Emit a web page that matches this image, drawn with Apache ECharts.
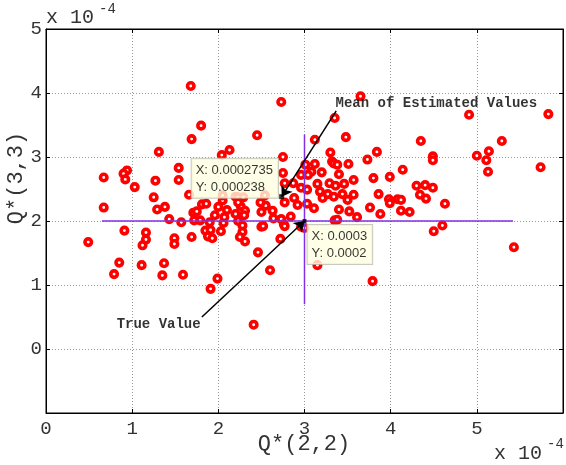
<!DOCTYPE html>
<html><head><meta charset="utf-8">
<script src="https://cdn.jsdelivr.net/npm/echarts@6/dist/echarts.min.js"></script>
<style>html,body{margin:0;padding:0;background:#fff}#c{width:566px;height:465px}</style>
</head><body><div id="c"></div>
<script>
// values in units of 1e-4
const estX = [1.68,2.73,1.80,1.69,2.45,1.31,2.13,2.04,2.75,0.67,0.94,0.90,0.92,1.03,1.27,1.54,1.54,1.25,1.66,1.29,1.38,0.67,1.43,1.57,0.91,1.16,1.16,1.12,1.49,1.49,1.69,0.49,0.85,0.79,1.11,1.37,1.35,1.59,1.91,1.99,2.46,2.60,2.41,2.72,
1.71,1.75,1.81,1.86,1.72,1.79,1.85,1.91,1.90,1.96,2.00,1.88,1.93,2.03,2.06,2.10,2.05,2.05,2.20,2.23,2.29,2.26,2.26,2.20,2.31,2.30,2.23,2.28,2.28,2.25,2.31,2.50,2.50,2.55,2.54,2.63,2.64,2.73,2.76,2.84,2.77,2.88,2.92,2.87,2.77,2.75,2.96,2.96,3.01,3.03,3.03,2.96,2.23,2.07,2.52,2.77,2.49,
3.65,3.35,3.12,3.48,3.30,3.32,3.34,3.38,3.12,3.51,3.73,3.84,3.20,3.40,3.08,3.04,3.57,3.80,3.99,4.14,4.35,4.49,4.49,4.91,5.00,5.11,5.14,5.29,5.13,5.74,5.83,5.43,3.79,4.50,4.60,3.15,3.29,3.36,3.46,3.18,3.27,3.21,3.34,3.44,3.50,3.57,3.11,3.40,3.52,3.61,3.76,3.88,3.86,3.98,3.99,4.08,4.12,4.12,4.22,4.30,4.40,4.49,4.34,4.41,4.63,3.35,3.38,3.15,3.00];
const estY = [4.11,3.86,3.49,3.28,3.34,3.08,3.11,3.03,3.00,2.68,2.79,2.74,2.65,2.53,2.63,2.83,2.64,2.37,2.41,2.18,2.22,2.21,2.03,1.98,1.85,1.82,1.71,1.62,1.73,1.64,1.75,1.67,1.35,1.17,1.31,1.34,1.15,1.16,0.94,1.10,1.51,1.23,0.38,1.72,
2.13,2.15,2.26,2.27,2.01,2.01,1.85,1.86,1.98,2.09,2.22,1.76,1.73,1.84,1.97,2.17,2.32,2.40,2.38,2.37,2.37,2.23,2.14,2.11,2.16,2.09,2.00,1.93,1.83,1.75,1.68,1.91,2.14,2.24,2.40,2.16,2.04,2.03,1.95,2.07,2.29,2.36,2.25,2.59,2.59,2.75,2.52,2.72,2.88,2.49,2.27,1.91,2.29,2.06,1.92,1.92,2.29,
3.95,3.61,3.27,3.31,3.07,2.93,2.90,2.88,2.89,2.89,2.96,3.08,2.76,2.73,2.77,2.72,2.64,2.67,2.69,2.80,3.25,3.01,2.95,3.66,3.02,2.95,3.09,3.25,2.77,2.84,3.67,1.59,1.06,1.84,1.93,2.58,2.59,2.55,2.58,2.46,2.42,2.36,2.38,2.42,2.33,2.41,2.20,2.18,2.15,2.06,2.21,2.11,2.42,2.34,2.28,2.34,2.33,2.16,2.14,2.55,2.56,2.52,2.41,2.35,2.27,2.01,2.02,1.31,1.89];

const meanPoint = [2.735, 2.38];
const truePoint = [3, 2];
const meanTip = 'X: 0.0002735\nY: 0.000238';
const trueTip = 'X: 0.0003\nY: 0.0002';
const trueHLine = [[0.65, 2], [5.42, 2]];
const trueVLine = [[3, 0.70], [3, 3.35]];
const meanArrow = [[3.368, 3.722], meanPoint];
const trueArrow = [[1.809, 0.499], truePoint];
const meanTextAt = [3.36, 3.84];
const trueTextAt = [0.82, 0.38];
const xTickLabels = [0, 1, 2, 3, 4, 5];
const yTickLabels = [0, 1, 2, 3, 4, 5];
const xRange = [0, 6];
const yRange = [-1, 5];

const mono = "'Liberation Mono','Courier New',monospace";
const sans = "'Liberation Sans',Arial,sans-serif";
const chart = echarts.init(document.getElementById('c'));
const pts = estX.map((x, i) => [x, estY[i]]);
const tipStyle = {show: true, position: 'inside', fontFamily: sans, fontSize: 13, lineHeight: 17, color: '#000', align: 'left',
  backgroundColor: '#ffffe1', borderColor: '#bcbcae', borderWidth: 1, padding: [3, 5, 2, 4]};
const axisCommon = (isX, main) => ({
  type: 'value', min: (isX ? xRange : yRange)[0], max: (isX ? xRange : yRange)[1], interval: 1,
  position: isX ? (main ? 'bottom' : 'top') : (main ? 'left' : 'right'),
  axisLine: {show: true, onZero: false, lineStyle: {color: '#000', width: 1}},
  axisTick: {show: true, inside: true, length: 4, lineStyle: {color: '#000'}},
  axisLabel: main ? {
    formatter: v => (isX ? xTickLabels : yTickLabels).includes(v) ? String(v) : '',
    fontFamily: mono, fontSize: 19, color: '#333', margin: isX ? 6 : 4
  } : {show: false},
  splitLine: main ? {show: true, lineStyle: {type: [1, 2], color: '#999', width: 1}} : {show: false}
});
chart.setOption({
  animation: false,
  grid: {left: 46, right: 1, top: 29, bottom: 52, show: true, backgroundColor: '#fff', borderColor: '#000', borderWidth: 1},
  xAxis: [axisCommon(true, true), axisCommon(true, false)],
  yAxis: [axisCommon(false, true), axisCommon(false, false)],
  graphic: [
    {type: 'text', left: 46, top: 8, style: {text: 'x 10', font: "20px 'Liberation Mono'", fill: '#333'}},
    {type: 'text', left: 99, top: 2, style: {text: '-4', font: "14px 'Liberation Mono'", fill: '#333'}},
    {type: 'text', left: 494, top: 444, style: {text: 'x 10', font: "20px 'Liberation Mono'", fill: '#333'}},
    {type: 'text', left: 547, top: 437, style: {text: '-4', font: "14px 'Liberation Mono'", fill: '#333'}},
    {type: 'text', x: 304, y: 444, style: {text: 'Q*(2,2)', font: "22px 'Liberation Mono'", fill: '#333', align: 'center', verticalAlign: 'middle'}},
    {type: 'text', x: 16, y: 178, rotation: Math.PI / 2, style: {text: 'Q*(3,3)', font: "22px 'Liberation Mono'", fill: '#333', align: 'center', verticalAlign: 'middle'}}
  ],
  series: [
    {type: 'scatter', data: pts, symbol: 'circle', symbolSize: 6.5, z: 3,
      itemStyle: {color: '#fff', borderColor: '#ff0000', borderWidth: 3.6, opacity: 1}},
    {type: 'line', data: trueHLine, symbol: 'none', z: 4, lineStyle: {color: '#8130e6', width: 1.5}},
    {type: 'line', data: trueVLine, symbol: 'none', z: 4, lineStyle: {color: '#8130e6', width: 1.5}},
    {type: 'scatter', data: [meanPoint], symbol: 'rect', symbolSize: 5, z: 6, itemStyle: {color: '#000'},
      label: Object.assign({}, tipStyle, {formatter: meanTip, verticalAlign: 'bottom', offset: [-90, 1]}),
      markLine: {silent: true, symbol: ['none', 'arrow'], symbolSize: 10, label: {show: false},
        lineStyle: {color: '#000', width: 1.5, type: 'solid'}, itemStyle: {color: '#000'},
        data: [[{coord: meanArrow[0]}, {coord: meanArrow[1]}], [{coord: trueArrow[0]}, {coord: trueArrow[1]}]]}},
    {type: 'scatter', data: [truePoint], symbol: 'rect', symbolSize: 4, z: 6, itemStyle: {color: '#000'},
      label: Object.assign({}, tipStyle, {formatter: trueTip, verticalAlign: 'top', offset: [3, 4]})},
    {type: 'scatter', data: [meanTextAt, trueTextAt], symbolSize: 0, z: 7,
      label: {show: true, position: 'inside', align: 'left', verticalAlign: 'middle', fontFamily: mono, fontWeight: 'bold', fontSize: 14, color: '#000',
        formatter: p => p.dataIndex === 0 ? 'Mean of Estimated Values' : 'True Value'}}
  ]
});
</script></body></html>
